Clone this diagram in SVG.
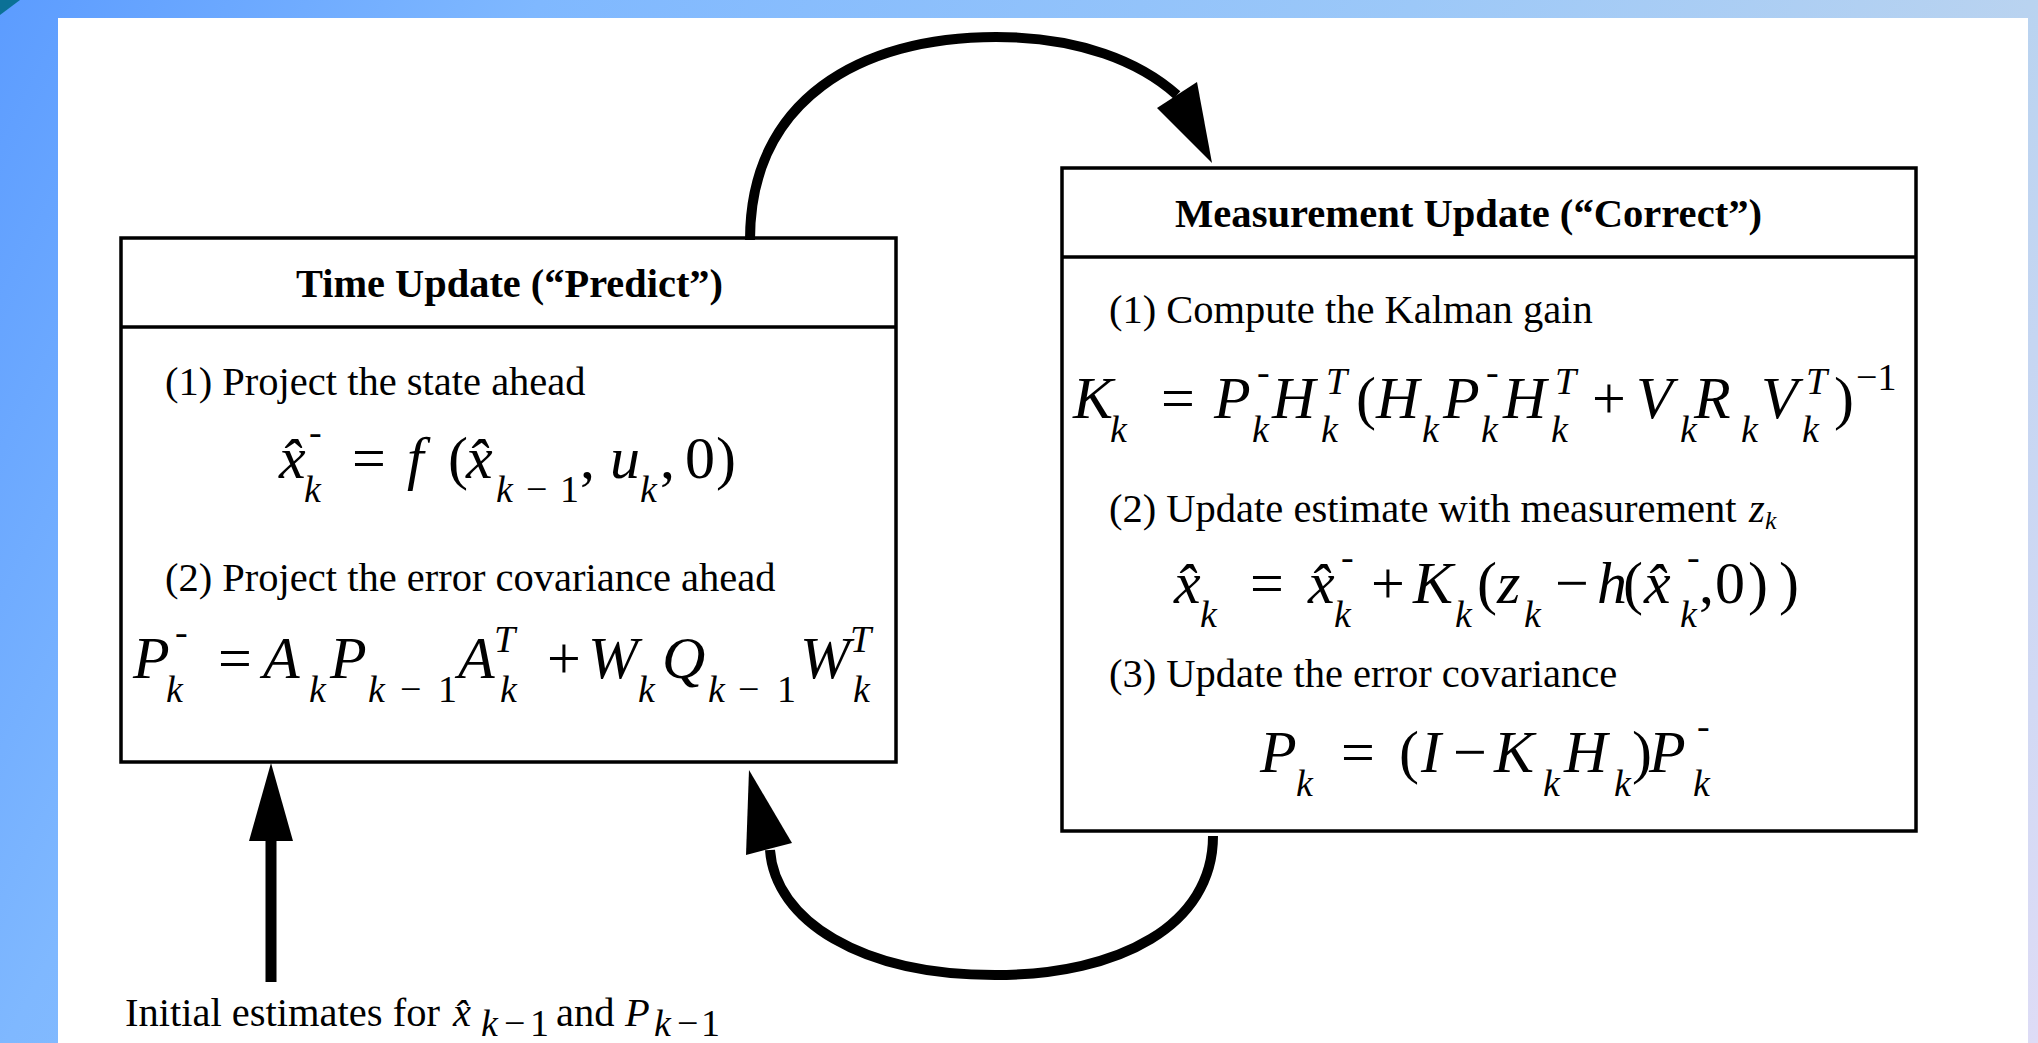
<svg xmlns="http://www.w3.org/2000/svg" width="2038" height="1043" viewBox="0 0 2038 1043">
<defs>
<linearGradient id="bg" gradientUnits="userSpaceOnUse" x1="0" y1="0" x2="2038" y2="1043">
<stop offset="0" stop-color="#5c9cff"/>
<stop offset="0.21" stop-color="#7fb8ff"/>
<stop offset="0.55" stop-color="#9cc8f8"/>
<stop offset="0.79" stop-color="#b9d3f0"/>
<stop offset="1" stop-color="#dedcf6"/>
</linearGradient>
<style>
.box{fill:#fff;stroke:#000;stroke-width:3.5}
.div{stroke:#000;stroke-width:3.5}
.t{font-family:"Liberation Serif","Times New Roman",serif;font-size:40.5px;fill:#000}
.b{font-weight:bold}
.m{font-family:"Liberation Serif","Times New Roman",serif;font-size:60px;font-style:italic;fill:#000}
.r{font-style:normal}
.s{font-size:38px}
.ss{font-size:26px}
.con{fill:none;stroke:#000;stroke-width:10}
.head{fill:#000}
</style>
</defs>
<rect x="0" y="0" width="2038" height="1043" fill="url(#bg)"/>
<polygon points="0,0 20,0 0,15" fill="#0b7196"/>
<rect x="58" y="18" width="1970" height="1025" fill="#fff"/>

<g id="time-update">
<rect class="box" x="121" y="238" width="775" height="524"/>
<line class="div" x1="121" y1="327" x2="896" y2="327"/>
<text class="t b" x="296" y="297" textLength="427" lengthAdjust="spacingAndGlyphs">Time Update (“Predict”)</text>
<text class="t" x="165" y="395">(1) Project the state ahead</text>
<text class="m"><tspan x="279" y="478">x&#x302;</tspan><tspan class="s r" x="309" y="445">-</tspan><tspan class="s" x="304" y="502">k</tspan><tspan class="r" x="352" y="478">=</tspan><tspan x="407" y="478">f</tspan><tspan class="r" x="448" y="478">(</tspan><tspan x="466" y="478">x&#x302;</tspan><tspan class="s" x="496" y="502">k</tspan><tspan class="s r" x="526" y="502">−</tspan><tspan class="s r" x="560" y="502">1</tspan><tspan class="r" x="580" y="478">,</tspan><tspan x="610" y="478">u</tspan><tspan class="s" x="640" y="502">k</tspan><tspan class="r" x="660" y="478">,</tspan><tspan class="r" x="685" y="478">0</tspan><tspan class="r" x="716" y="478">)</tspan></text>
<text class="t" x="165" y="591">(2) Project the error covariance ahead</text>
<text class="m"><tspan x="133" y="678">P</tspan><tspan class="s r" x="175" y="645">-</tspan><tspan class="s" x="166" y="702">k</tspan><tspan class="r" x="218" y="678">=</tspan><tspan x="263" y="678">A</tspan><tspan class="s" x="309" y="702">k</tspan><tspan x="330" y="678">P</tspan><tspan class="s" x="368" y="702">k</tspan><tspan class="s r" x="400" y="702">−</tspan><tspan class="s r" x="438" y="702">1</tspan><tspan x="458" y="678">A</tspan><tspan class="s" x="494" y="652">T</tspan><tspan class="s" x="500" y="702">k</tspan><tspan class="r" x="547" y="678">+</tspan><tspan x="588" y="678">W</tspan><tspan class="s" x="638" y="702">k</tspan><tspan x="662" y="678">Q</tspan><tspan class="s" x="708" y="702">k</tspan><tspan class="s r" x="738" y="702">−</tspan><tspan class="s r" x="777" y="702">1</tspan><tspan x="800" y="678">W</tspan><tspan class="s" x="850" y="652">T</tspan><tspan class="s" x="853" y="702">k</tspan></text>
</g>

<g id="measurement-update">
<rect class="box" x="1062" y="168" width="854" height="663"/>
<line class="div" x1="1062" y1="257" x2="1916" y2="257"/>
<text class="t b" x="1175" y="227" textLength="587" lengthAdjust="spacingAndGlyphs">Measurement Update (“Correct”)</text>
<text class="t" x="1109" y="323">(1) Compute the Kalman gain</text>
<text class="m"><tspan x="1073" y="418">K</tspan><tspan class="s" x="1110" y="442">k</tspan><tspan class="r" x="1161" y="418">=</tspan><tspan x="1214" y="418">P</tspan><tspan class="s r" x="1257" y="385">-</tspan><tspan class="s" x="1252" y="442">k</tspan><tspan x="1272" y="418">H</tspan><tspan class="s" x="1326" y="394">T</tspan><tspan class="s" x="1321" y="442">k</tspan><tspan class="r" x="1356" y="418">(</tspan><tspan x="1376" y="418">H</tspan><tspan class="s" x="1422" y="442">k</tspan><tspan x="1443" y="418">P</tspan><tspan class="s r" x="1486" y="385">-</tspan><tspan class="s" x="1481" y="442">k</tspan><tspan x="1503" y="418">H</tspan><tspan class="s" x="1555" y="394">T</tspan><tspan class="s" x="1551" y="442">k</tspan><tspan class="r" x="1592" y="418">+</tspan><tspan x="1636" y="418">V</tspan><tspan class="s" x="1680" y="442">k</tspan><tspan x="1694" y="418">R</tspan><tspan class="s" x="1741" y="442">k</tspan><tspan x="1761" y="418">V</tspan><tspan class="s" x="1806" y="394">T</tspan><tspan class="s" x="1802" y="442">k</tspan><tspan class="r" x="1834" y="418">)</tspan><tspan class="s r" x="1856" y="390">−1</tspan></text>
<text class="t" x="1109" y="522">(2) Update estimate with measurement <tspan x="1749" y="522" font-style="italic">z</tspan><tspan class="ss" x="1765" y="529" font-style="italic">k</tspan></text>
<text class="m"><tspan x="1174" y="603">x&#x302;</tspan><tspan class="s" x="1200" y="627">k</tspan><tspan class="r" x="1250" y="603">=</tspan><tspan x="1308" y="603">x&#x302;</tspan><tspan class="s r" x="1341" y="570">-</tspan><tspan class="s" x="1334" y="627">k</tspan><tspan class="r" x="1371" y="603">+</tspan><tspan x="1413" y="603">K</tspan><tspan class="s" x="1455" y="627">k</tspan><tspan class="r" x="1477" y="603">(</tspan><tspan x="1497" y="603">z</tspan><tspan class="s" x="1524" y="627">k</tspan><tspan class="r" x="1555" y="603">−</tspan><tspan x="1597" y="603">h</tspan><tspan class="r" x="1623" y="603">(</tspan><tspan x="1644" y="603">x&#x302;</tspan><tspan class="s r" x="1687" y="570">-</tspan><tspan class="s" x="1680" y="627">k</tspan><tspan class="r" x="1699" y="603">,</tspan><tspan class="r" x="1715" y="603">0</tspan><tspan class="r" x="1748" y="603">)</tspan><tspan class="r" x="1779" y="603">)</tspan></text>
<text class="t" x="1109" y="687">(3) Update the error covariance</text>
<text class="m"><tspan x="1260" y="772">P</tspan><tspan class="s" x="1296" y="796">k</tspan><tspan class="r" x="1341" y="772">=</tspan><tspan class="r" x="1399" y="772">(</tspan><tspan x="1421" y="772">I</tspan><tspan class="r" x="1453" y="772">−</tspan><tspan x="1494" y="772">K</tspan><tspan class="s" x="1543" y="796">k</tspan><tspan x="1564" y="772">H</tspan><tspan class="s" x="1614" y="796">k</tspan><tspan class="r" x="1632" y="772">)</tspan><tspan x="1649" y="772">P</tspan><tspan class="s r" x="1697" y="739">-</tspan><tspan class="s" x="1693" y="796">k</tspan></text>
</g>

<g id="initial-estimates">
<text class="t"><tspan x="125" y="1026">Initial estimates for</tspan><tspan x="453" y="1026" font-style="italic">x&#x302;</tspan><tspan class="s" x="481" y="1036" font-style="italic">k</tspan><tspan class="s" x="504" y="1036">−</tspan><tspan class="s" x="530" y="1036">1</tspan><tspan x="556" y="1026">and</tspan><tspan x="625" y="1026" font-style="italic">P</tspan><tspan class="s" x="654" y="1036" font-style="italic">k</tspan><tspan class="s" x="677" y="1036">−</tspan><tspan class="s" x="701" y="1036">1</tspan></text>
</g>

<g id="connectors">
<path class="con" d="M750 240 C750 100 860 37 996 37 C1080 37 1140 62 1177 95"/>
<polygon class="head" points="1212,163 1157,108 1197,82"/>
<path class="con" d="M1213 836 C1213 925 1120 975 995 975 C860 975 775 920 770 850"/>
<polygon class="head" points="749,770 746,855 792,843"/>
<line x1="271" y1="982" x2="271" y2="836" stroke="#000" stroke-width="11"/>
<polygon class="head" points="271,763 249,841 293,841"/>
</g>
</svg>
